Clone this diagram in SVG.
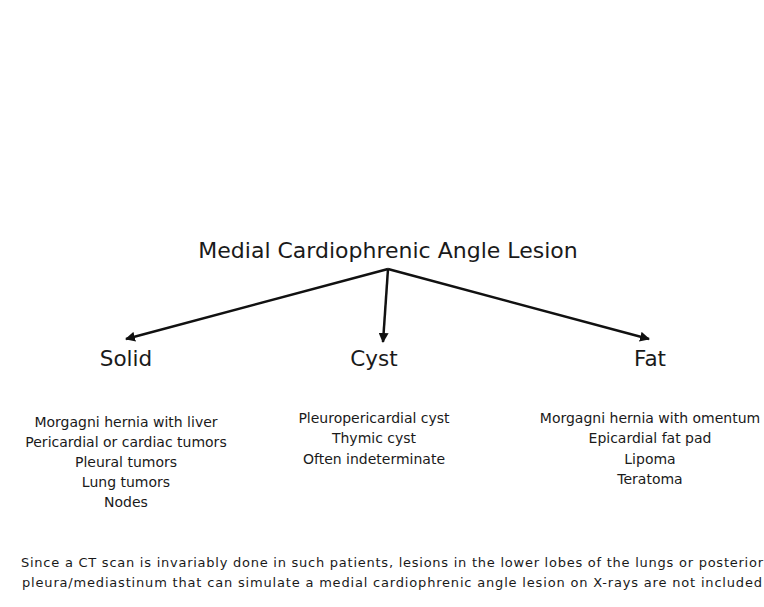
<svg xmlns="http://www.w3.org/2000/svg" width="764" height="607" viewBox="0 0 764 607">
<style>
text{font-family:"DejaVu Sans","Noto Sans",sans-serif;fill:#1a1a1a;text-anchor:middle}
.title{font-size:22px}
.cat{font-size:21.5px}
.item{font-size:14px}
.note{font-size:13px}
.conn{stroke:#111;stroke-width:2.5;fill:none;marker-end:url(#arr)}
</style>
<defs>
<marker id="arr" viewBox="0 0 10 10" refX="9" refY="5" markerWidth="4" markerHeight="4" orient="auto" markerUnits="strokeWidth">
<path d="M0,0 L10,5 L0,10 Z" fill="#111"/>
</marker>
</defs>
<rect width="764" height="607" fill="#fff"/>
<g id="root"><text class="title" x="388" y="258">Medial Cardiophrenic Angle Lesion</text></g>
<g id="connectors">
<line class="conn" x1="388" y1="269" x2="126" y2="339"/>
<line class="conn" x1="388" y1="269" x2="383" y2="342"/>
<line class="conn" x1="388" y1="269" x2="649" y2="339"/>
</g>
<g id="solid">
<text class="cat" x="126" y="366">Solid</text>
<text class="item" x="126" y="427">Morgagni hernia with liver</text>
<text class="item" x="126" y="447">Pericardial or cardiac tumors</text>
<text class="item" x="126" y="467">Pleural tumors</text>
<text class="item" x="126" y="487">Lung tumors</text>
<text class="item" x="126" y="507">Nodes</text>
</g>
<g id="cyst">
<text class="cat" x="374" y="366">Cyst</text>
<text class="item" x="374" y="423">Pleuropericardial cyst</text>
<text class="item" x="374" y="443">Thymic cyst</text>
<text class="item" x="374" y="464">Often indeterminate</text>
</g>
<g id="fat">
<text class="cat" x="650" y="366">Fat</text>
<text class="item" x="650" y="423">Morgagni hernia with omentum</text>
<text class="item" x="650" y="443">Epicardial fat pad</text>
<text class="item" x="650" y="464">Lipoma</text>
<text class="item" x="650" y="484">Teratoma</text>
</g>
<g id="note">
<text class="note" x="392" y="567" textLength="742">Since a CT scan is invariably done in such patients, lesions in the lower lobes of the lungs or posterior</text>
<text class="note" x="392" y="587" textLength="740">pleura/mediastinum that can simulate a medial cardiophrenic angle lesion on X-rays are not included</text>
</g>
</svg>
